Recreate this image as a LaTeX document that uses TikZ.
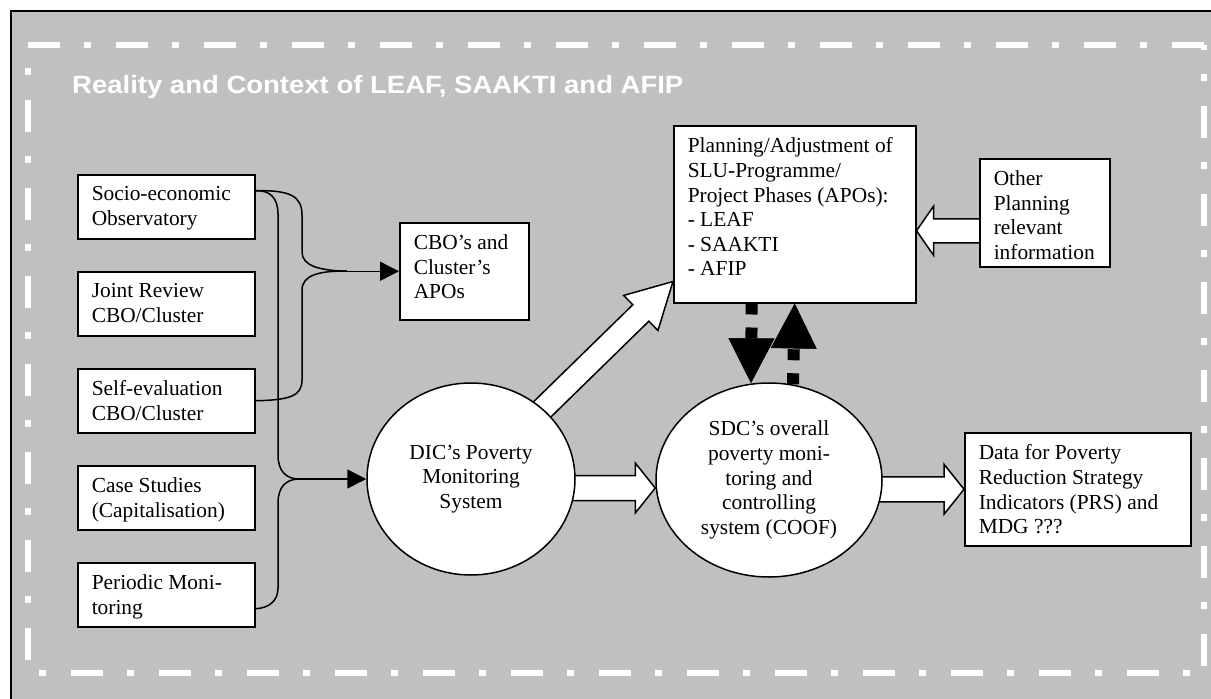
\documentclass[tikz,border=0pt]{standalone}
\usepackage{fontspec}
\setmainfont{Liberation Serif}
\newfontfamily\titlefont{Liberation Sans}
\usepackage{xcolor}
\usepackage{graphicx}
\usepackage{tikz}
\usetikzlibrary{calc,shapes.geometric,backgrounds,arrows.meta}
\definecolor{ctxgray}{RGB}{192,192,192}
\definecolor{ctxline}{RGB}{0,0,0}

\newcommand{\boxtext}[3]{\parbox[t][#2pt][t]{#1pt}{\raggedright #3}}
\newcommand{\fatarrow}[5]{%
  \coordinate (fahead) at ($(#2)!#5!(#1)$);
  \draw[fatline] ($(#1)!#3!90:(#2)$) -- ($(fahead)!#3!90:(#2)$) -- ($(fahead)!#4!90:(#2)$) -- (#2)
    -- ($(fahead)!#4!-90:(#2)$) -- ($(fahead)!#3!-90:(#2)$) -- ($(#1)!#3!-90:(#2)$) -- cycle;
}

\begin{document}
\begin{tikzpicture}[x=1pt,y=-1pt,
  txtbox/.style={draw=ctxline,fill=white,line width=1.5pt,inner xsep=14pt,inner ysep=12pt,
    anchor=north west,font=\fontsize{21.4}{24.6}\selectfont},
  bubble/.style={ellipse,draw=ctxline,fill=white,line width=1.5pt,inner sep=0pt,align=center,
    font=\fontsize{21.4}{24.6}\selectfont},
  link/.style={draw=ctxline,line width=1.5pt},
  feed/.style={link,-{Triangle[length=19pt,width=19pt]}},
  fatline/.style={draw=ctxline,fill=white,line width=1.5pt,line join=miter},
  dashloop/.style={draw=ctxline,line width=12pt,dash pattern=on 11pt off 13pt,
    -{Triangle[length=45pt,width=46pt,line width=0.5pt]}},
  ctxdash/.style={draw=white,line width=6pt,dash pattern=on 32pt off 24pt on 7pt off 25pt}]
\useasboundingbox (0,0) rectangle (1211,699);

\node[anchor=base west,inner sep=0pt,text=white,font=\titlefont\bfseries\fontsize{25}{29}\selectfont] (title) at (72,93) {\scalebox{1.1}[1]{Reality and Context of LEAF, SAAKTI and AFIP}};

% left column
\node[txtbox] (socio) at (77,174) {\boxtext{149}{40}{Socio-economic\\Observatory}};
\node[txtbox] (joint) at (77,271) {\boxtext{149}{40}{Joint Review\\CBO/Cluster}};
\node[txtbox] (selfev) at (77,368) {\boxtext{149}{40}{Self-evaluation\\CBO/Cluster}};
\node[txtbox] (case) at (77,465) {\boxtext{149}{40}{Case Studies\\(Capitalisation)}};
\node[txtbox] (periodic) at (77,562) {\boxtext{149}{40}{Periodic Moni-\\toring}};

\node[txtbox] (cbo) at (399,222) {\boxtext{101}{73}{CBO's and\\Cluster's\\APOs}};
\node[txtbox] (plan) at (673,125) {\boxtext{214}{153}{Planning/Adjustment of\\SLU-Programme/\\Project Phases (APOs):\\- LEAF\\- SAAKTI\\- AFIP}};
\node[txtbox] (other) at (979,158) {\boxtext{102}{84}{Other\\Planning\\relevant\\information}};
\node[txtbox] (data) at (964,432) {\boxtext{198}{89}{Data for Poverty\\Reduction Strategy\\Indicators (PRS) and\\MDG ???}};

\node[bubble,minimum width=208pt,minimum height=192pt] (dic) at (471,479) {DIC's Poverty\\Monitoring\\System};
\node[bubble,minimum width=226pt,minimum height=194pt] (sdc) at (769,480) {SDC's overall\\poverty moni-\\toring and\\controlling\\system (COOF)};

% brackets
\coordinate (jcbo) at ($(cbo.west)+(-52,0)$);
\draw[link] ($(socio.east)+(0,-16)$) .. controls (290,190) and (302,196) .. (302,215) -- (302,252) .. controls (302,266) and (320,270.5) .. (jcbo);
\draw[link] (selfev.east) .. controls (290,400) and (302,396) .. (302,380) -- (302,290) .. controls (302,275) and (320,270.5) .. (jcbo);
\draw[feed] (jcbo) -- (cbo.west);

\coordinate (jdic) at ($(dic.west)+(-67,0)$);
\draw[link] ($(socio.east)+(0,-16)$) .. controls (270,190) and (278,198) .. (278,214) -- (278,455) .. controls (278,471) and (286,479) .. (jdic);
\draw[link] ($(periodic.east)+(0,14)$) .. controls (270,608) and (278,600) .. (278,588) -- (278,503) .. controls (278,487) and (286,479) .. (jdic);
\draw[feed] (jdic) -- (dic.west);

% feedback loop
\draw[dashloop] ($(plan.south)+(-43,0)$) -- ($(sdc.north)+(-18,1)$);
\draw[dashloop] ($(sdc.north)+(24,2)$) -- (plan.south);

\begin{pgfonlayer}{background}
\fill[ctxgray] (11,11) rectangle (1230,720);
\draw[line width=1.5pt] (11,720) -- (11,11) -- (1230,11);
\draw[ctxdash] (28,45) -- (1204,45);
\draw[ctxdash,dash phase=33pt] (28,45) -- (28,673);
\draw[ctxdash,dash phase=27pt] (1204,45) -- (1204,673);
\draw[ctxdash,dash phase=45pt] (28,673) -- (1204,673);

\coordinate (dicout) at ($(dic.center)+(0,9)$);
\coordinate (sdcin) at (sdc.west |- dicout);
\fatarrow{dicout}{sdcin}{12.5pt}{25pt}{20pt}
\coordinate (sdcout) at (sdc.center |- data.west);
\fatarrow{sdcout}{data.west}{12.5pt}{25pt}{20pt}
\coordinate (othout) at ($(other.center)+(0,18)$);
\coordinate (planin) at (plan.east |- othout);
\fatarrow{othout}{planin}{12pt}{24.5pt}{17pt}
\coordinate (planlow) at ($(plan.south west)+(0,-22)$);
\fatarrow{dic.center}{planlow}{11.5pt}{24.5pt}{45pt}
\end{pgfonlayer}
\end{tikzpicture}
\end{document}
